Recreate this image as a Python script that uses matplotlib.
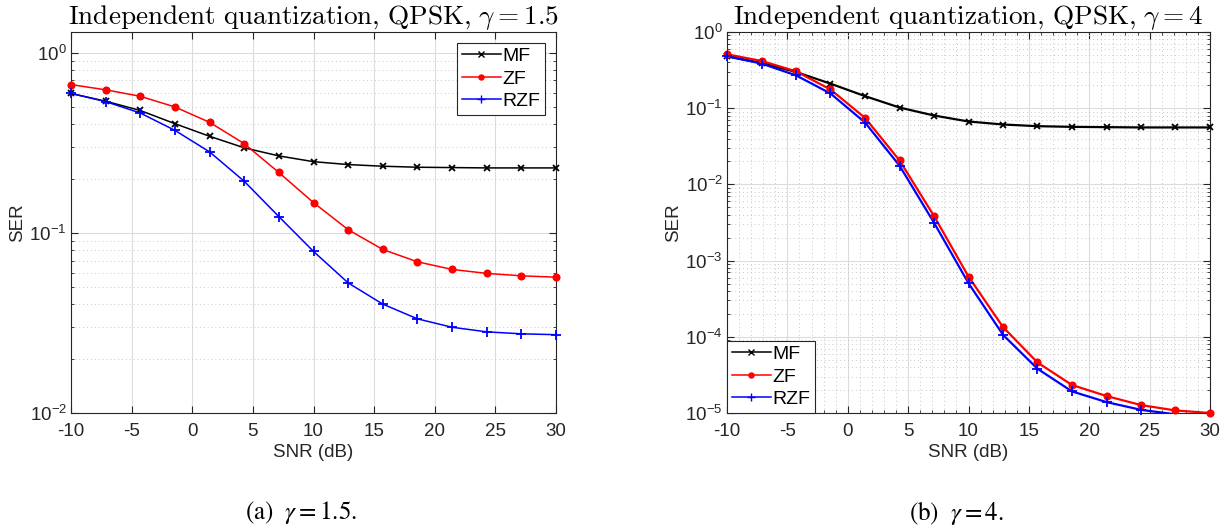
import numpy as np
import matplotlib.pyplot as plt
from matplotlib.lines import Line2D
from matplotlib.ticker import LogLocator, MultipleLocator, NullLocator, NullFormatter

snr = [-10, -7.14, -4.29, -1.43, 1.43, 4.29, 7.14, 10, 12.86, 15.71, 18.57, 21.43, 24.29, 27.14, 30]

# (a) gamma = 1.5
mf_a = [0.593, 0.537, 0.477, 0.403, 0.343, 0.296, 0.267, 0.248, 0.239, 0.234, 0.231, 0.230, 0.229, 0.229, 0.229]
zf_a = [0.664, 0.621, 0.572, 0.499, 0.410, 0.312, 0.216, 0.147, 0.104, 0.0808, 0.069, 0.0626, 0.0595, 0.0577, 0.0567]
rzf_a = [0.593, 0.534, 0.462, 0.370, 0.281, 0.193, 0.123, 0.0788, 0.0527, 0.0402, 0.0333, 0.0299, 0.0282, 0.0275, 0.0272]

# (b) gamma = 4
mf_b = [0.480, 0.393, 0.299, 0.210, 0.144, 0.102, 0.0802, 0.0669, 0.0611, 0.0581, 0.0569, 0.0564, 0.0559, 0.0559, 0.0559]
zf_b = [0.510, 0.417, 0.305, 0.176, 0.0747, 0.0206, 0.00385, 6.17e-4, 1.34e-4, 4.61e-5, 2.33e-5, 1.67e-5, 1.27e-5, 1.08e-5, 1.0e-5]
rzf_b = [0.480, 0.385, 0.270, 0.156, 0.0649, 0.0176, 0.00315, 5.05e-4, 1.06e-4, 3.81e-5, 1.92e-5, 1.39e-5, 1.10e-5, 9.6e-6, 8.8e-6]

names = ['MF', 'ZF', 'RZF']
colors = ['k', 'r', 'b']
markers = ['x', 'o', '+']
msizes = [5, 4.5, 7.5]

plt.rcParams['font.family'] = ['Liberation Sans', 'DejaVu Sans']
plt.rcParams['mathtext.fontset'] = 'custom'
plt.rcParams['mathtext.rm'] = 'Liberation Sans'
plt.rcParams['mathtext.it'] = 'Liberation Sans:italic'
plt.rcParams['axes.unicode_minus'] = False

fig = plt.figure(figsize=(12.22, 5.27), dpi=100)
ax_a = fig.add_axes([71 / 1222, 114 / 527, 485 / 1222, 381 / 527])
ax_b = fig.add_axes([727 / 1222, 114 / 527, 483 / 1222, 381 / 527])

tick_col = '#262626'


def draw(ax, series, ylim, lw, title, xminor):
    for y, c, m, ms in zip(series, colors, markers, msizes):
        y = np.asarray(y)
        ax.plot(snr, y, color=c, lw=lw)
        keep = list(y >= ylim[0] * 0.999)
        ax.plot(snr, y, ls='none', color=c, marker=m, ms=ms, mew=1.3,
                markevery=keep, clip_on=False, zorder=3)
    ax.set_yscale('log')
    ax.set_xlim(-10, 30)
    ax.set_ylim(*ylim)
    ax.xaxis.set_major_locator(MultipleLocator(5))
    if xminor:
        ax.xaxis.set_minor_locator(MultipleLocator(1))
    else:
        ax.xaxis.set_minor_locator(NullLocator())
    ax.yaxis.set_major_locator(LogLocator(base=10, numticks=20))
    ax.yaxis.set_minor_locator(LogLocator(base=10, subs=np.arange(2, 10), numticks=20))
    ax.yaxis.set_minor_formatter(NullFormatter())
    ax.grid(which='major', color='#dcdcdc', lw=0.8, ls='-')
    ax.grid(which='minor', color='#c8c8c8', lw=0.7, ls=(0, (1, 3)))
    ax.set_axisbelow(True)
    ax.tick_params(which='both', direction='in', top=True, right=True,
                   colors=tick_col, labelsize=13.5, labelcolor=tick_col)
    ax.tick_params(which='major', length=5, width=0.8)
    ax.tick_params(axis='x', which='major', pad=7)
    ax.tick_params(axis='y', which='major', pad=3)
    ax.tick_params(which='minor', length=2.5, width=0.6)
    for s in ax.spines.values():
        s.set_color(tick_col)
        s.set_linewidth(0.8)
    ax.set_xlabel('SNR (dB)', fontsize=13.5, color=tick_col, labelpad=3)
    ax.set_ylabel('SER', fontsize=13.5, color=tick_col, labelpad=2)
    ax.set_title(title, fontsize=19.6, math_fontfamily='cm', pad=3)


draw(ax_a, [mf_a, zf_a, rzf_a], (1e-2, 1.3), 1.1,
     r'$\mathrm{Independent\ quantization{,}\ QPSK{,}\ }\gamma = 1.5$', False)
draw(ax_b, [mf_b, zf_b, rzf_b], (1e-5, 1.0), 1.6,
     r'$\mathrm{Independent\ quantization{,}\ QPSK{,}\ }\gamma = 4$', True)

handles = [Line2D([], [], color=c, marker=m, ms=ms * 0.8, lw=1.1, label=n)
           for n, c, m, ms in zip(names, colors, markers, msizes)]
leg_a = ax_a.legend(handles=handles, loc='upper right', fontsize=14, frameon=True,
                    fancybox=False, edgecolor='#262626', framealpha=1,
                    handlelength=2.0, handletextpad=0.1, borderpad=0.25,
                    labelspacing=0.25, borderaxespad=0.55)
leg_a.get_frame().set_linewidth(0.8)
leg_b = ax_b.legend(handles=handles, loc='lower left', fontsize=14, frameon=True,
                    fancybox=False, edgecolor='#262626', framealpha=1,
                    handlelength=2.0, handletextpad=0.1, borderpad=0.25,
                    labelspacing=0.25, borderaxespad=0.0)
leg_b.get_frame().set_linewidth(0.8)

fig.text(301 / 1222, 1 - 513 / 527, r'$\mathrm{(a)}\ \ \gamma = 1.5.$', fontsize=18,
         math_fontfamily='stix', ha='center', va='center')
fig.text(956 / 1222, 1 - 513 / 527, r'$\mathrm{(b)}\ \ \gamma = 4.$', fontsize=18,
         math_fontfamily='stix', ha='center', va='center')

fig.savefig('out.png', dpi=100)
